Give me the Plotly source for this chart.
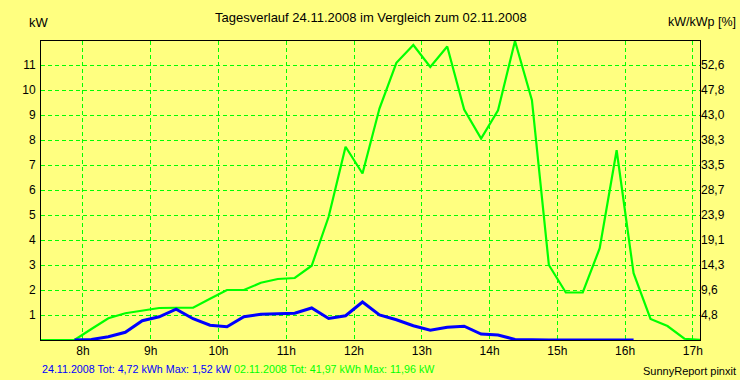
import plotly.graph_objects as go

# time of each 15-min average (decimal hours, plotted at interval midpoint)
hours = [7.375, 7.625, 7.875, 8.125, 8.375, 8.625, 8.875, 9.125, 9.375, 9.625,
         9.875, 10.125, 10.375, 10.625, 10.875, 11.125, 11.375, 11.625, 11.875, 12.125,
         12.375, 12.625, 12.875, 13.125, 13.375, 13.625, 13.875, 14.125, 14.375, 14.625,
         14.875, 15.125, 15.375, 15.625, 15.875, 16.125, 16.375, 16.625, 16.875, 17.125]

# 02.11.2008 (green)
kw_0211 = [0, 0, 0, 0.44, 0.87, 1.07, 1.19, 1.28, 1.29, 1.29,
           1.65, 2.0, 2.0, 2.29, 2.44, 2.48, 2.97, 4.93, 7.73, 6.66,
           9.26, 11.09, 11.80, 10.92, 11.74, 9.22, 8.06, 9.19, 11.96, 9.59,
           3.0, 1.90, 1.90, 3.67, 7.59, 2.67, 0.84, 0.56, 0.05, 0]

# 24.11.2008 (blue)
hours_2411 = [7.875, 8.125, 8.375, 8.625, 8.875, 9.125, 9.375, 9.625, 9.875, 10.125,
              10.375, 10.625, 10.875, 11.125, 11.375, 11.625, 11.875, 12.125, 12.375, 12.625,
              12.875, 13.125, 13.375, 13.625, 13.875, 14.125, 14.375, 14.625, 14.875, 15.125,
              15.375, 15.625, 15.875, 16.125]
kw_2411 = [0, 0.02, 0.13, 0.31, 0.77, 0.93, 1.23, 0.85, 0.59, 0.53,
           0.93, 1.03, 1.05, 1.07, 1.28, 0.86, 0.97, 1.52, 1.0, 0.81,
           0.57, 0.39, 0.51, 0.55, 0.24, 0.20, 0.02, 0, 0, 0,
           0, 0, 0, 0]

x_ticks = [8, 9, 10, 11, 12, 13, 14, 15, 16, 17]
x_labels = ["8h", "9h", "10h", "11h", "12h", "13h", "14h", "15h", "16h", "17h"]
y_ticks = [1, 2, 3, 4, 5, 6, 7, 8, 9, 10, 11]
y_labels = ["1", "2", "3", "4", "5", "6", "7", "8", "9", "10", "11"]
y2_labels = ["4,8", "9,6", "14,3", "19,1", "23,9", "28,7", "33,5", "38,3", "43,0", "47,8", "52,6"]

title = "Tagesverlauf 24.11.2008 im Vergleich zum 02.11.2008"
info_blue = "24.11.2008 Tot: 4,72 kWh Max: 1,52 kW"
info_green = "02.11.2008 Tot: 41,97 kWh Max: 11,96 kW"

BG = "#FFFF80"
GREEN = "#00FF00"
BLUE = "#0000FF"
FONT = "Liberation Sans"

fig = go.Figure()
fig.add_trace(go.Scatter(x=hours, y=kw_0211, mode="lines",
                         line=dict(color=GREEN, width=2.2), hoverinfo="skip"))
fig.add_trace(go.Scatter(x=hours_2411, y=kw_2411, mode="lines",
                         line=dict(color=BLUE, width=3), hoverinfo="skip"))
# invisible trace to activate right axis
fig.add_trace(go.Scatter(x=[8], y=[0], yaxis="y2", mode="markers",
                         marker=dict(opacity=0), hoverinfo="skip"))

YMAX = 11.96
fig.update_layout(
    template="none",
    width=740, height=380,
    margin=dict(l=41, r=40, t=41, b=40, autoexpand=False),
    paper_bgcolor=BG, plot_bgcolor=BG,
    showlegend=False,
    font=dict(family=FONT, size=12, color="black"),
    xaxis=dict(range=[7.381, 17.105], tickvals=x_ticks, ticktext=x_labels,
               showgrid=True, gridcolor=GREEN, griddash="4px,3px", gridwidth=1,
               zeroline=False, showline=True, linecolor="black", linewidth=1,
               mirror=True, ticks="", automargin=False,
               tickfont=dict(size=12, family=FONT)),
    yaxis=dict(range=[0, YMAX], tickvals=y_ticks, ticktext=y_labels,
               showgrid=True, gridcolor=GREEN, griddash="4px,3px", gridwidth=1,
               zeroline=False, showline=True, linecolor="black", linewidth=1,
               mirror=True, ticks="", automargin=False, ticklabelstandoff=2,
               tickfont=dict(size=12, family=FONT)),
    yaxis2=dict(range=[0, YMAX], overlaying="y", side="right",
                tickvals=y_ticks, ticktext=y2_labels, showgrid=False,
                zeroline=False, showline=False, ticks="", automargin=False,
                tickfont=dict(size=12, family=FONT)),
    annotations=[
        dict(text=title, x=0.5, y=1.077, xref="paper", yref="paper",
             xanchor="center", yanchor="middle", showarrow=False,
             font=dict(size=13, family=FONT)),
        dict(text="kW", x=-0.003, y=1.0635, xref="paper", yref="paper",
             xanchor="center", yanchor="middle", showarrow=False,
             font=dict(size=13, family=FONT)),
        dict(text="kW/kWp [%]", x=1.0577, y=1.0635, xref="paper", yref="paper",
             xanchor="right", yanchor="middle", showarrow=False,
             font=dict(size=12.5, family=FONT)),
        dict(text=f"<span style='color:{BLUE}'>{info_blue}</span> "
                  f"<span style='color:{GREEN}'>{info_green}</span>",
             x=-0.0015, y=-0.098, xref="paper", yref="paper",
             xanchor="left", yanchor="middle", showarrow=False,
             font=dict(size=10.7, family=FONT)),
        dict(text="SunnyReport pinxit", x=1.0577, y=-0.1027, xref="paper", yref="paper",
             xanchor="right", yanchor="middle", showarrow=False,
             font=dict(size=11, family=FONT, color="black")),
    ],
)

fig.write_html("out.html", config={"displayModeBar": False},
               post_script="document.body.style.margin='0';document.body.style.padding='0';")
